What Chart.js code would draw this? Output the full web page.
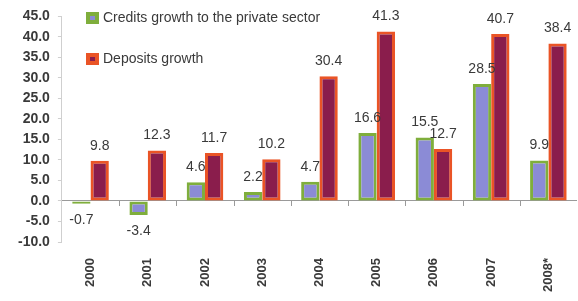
<!DOCTYPE html>
<html>
<head>
<meta charset="utf-8">
<script src="https://cdn.jsdelivr.net/npm/chart.js@4"></script>
<style>
  html, body { margin: 0; padding: 0; background: #fff; }
  #wrap { width: 578px; height: 301px; }
</style>
</head>
<body>
<div id="wrap"><canvas id="graf"></canvas></div>
<script>
// dados
var anos = ["2000", "2001", "2002", "2003", "2004", "2005", "2006", "2007", "2008*"];
var creditos = [-0.7, -3.4, 4.6, 2.2, 4.7, 16.6, 15.5, 28.5, 9.9];
var depositos = [9.8, 12.3, 11.7, 10.2, 30.4, 41.3, 12.7, 40.7, 38.4];
var nomes = ["Credits growth to the private sector", "Deposits growth"];

var corFundo = ["#8b8bd6", "#8a1d4c"];
var corBorda = ["#7fae3c", "#ea5426"];

// rotulos de valor em cima / embaixo das barras
var rotulos = {
  id: "rotulos",
  afterDatasetsDraw: function(chart){
    var ctx = chart.ctx
    ctx.save()
    ctx.font = "14px Arial, 'Liberation Sans', sans-serif"
    ctx.fillStyle = "#3a3a3a"
    ctx.textAlign = "center"
    chart.data.datasets.forEach(function(ds, d){
      var meta = chart.getDatasetMeta(d)
      meta.data.forEach(function(bar, i){
        var v = ds.data[i]
        if (v < 0) {
          ctx.textBaseline = "top"
          ctx.fillText(v.toFixed(1), bar.x, bar.y + 9)
        } else {
          ctx.textBaseline = "bottom"
          ctx.fillText(v.toFixed(1), bar.x, bar.y - 8)
        }
      })
    })
    ctx.restore()
  }
}

// tracinhos no eixo zero e a legenda
var extras = {
  id: "extras",
  afterDraw: function(chart){
    var ctx = chart.ctx
    var x = chart.scales.x, y = chart.scales.y
    var y0 = y.getPixelForValue(0)
    ctx.save()
    ctx.strokeStyle = "#9a9a9a"
    ctx.lineWidth = 1
    for (var i = 0; i < anos.length - 1; i++) {
      var px = Math.round((x.getPixelForValue(i) + x.getPixelForValue(i + 1)) / 2) + 0.5
      ctx.beginPath()
      ctx.moveTo(px, y0)
      ctx.lineTo(px, y0 + 5)
      ctx.stroke()
    }
    // legenda
    var posY = [18, 59]
    ctx.font = "14px Arial, 'Liberation Sans', sans-serif"
    ctx.textBaseline = "middle"
    ctx.textAlign = "left"
    nomes.forEach(function(n, k){
      ctx.fillStyle = corBorda[k]
      ctx.fillRect(86, posY[k] - 6, 13, 12)
      ctx.fillStyle = corFundo[k]
      ctx.fillRect(90, posY[k] - 2, 5, 4)
      ctx.fillStyle = "#3a3a3a"
      ctx.fillText(n, 103, posY[k])
    })
    ctx.restore()
  }
}

new Chart(document.getElementById("graf"), {
  type: "bar",
  data: {
    labels: anos,
    datasets: [{
      label: nomes[0],
      data: creditos,
      backgroundColor: corFundo[0],
      borderColor: corBorda[0],
      borderWidth: 3,
      borderSkipped: false
    }, {
      label: nomes[1],
      data: depositos,
      backgroundColor: corFundo[1],
      borderColor: corBorda[1],
      borderWidth: 3,
      borderSkipped: false
    }]
  },
  plugins: [rotulos, extras],
  options: {
    responsive: true,
    maintainAspectRatio: false,
    animation: false,
    layout: { padding: { top: 16, right: 1, bottom: 1, left: 10 } },
    datasets: { bar: { categoryPercentage: 0.64, barPercentage: 1.0 } },
    plugins: {
      legend: { display: false },
      tooltip: { enabled: false }
    },
    scales: {
      x: {
        grid: { display: false },
        border: { display: false },
        ticks: {
          minRotation: 90,
          maxRotation: 90,
          padding: 8,
          color: "#3a3a3a",
          font: { family: "Arial, 'Liberation Sans', sans-serif", size: 13, weight: "bold" }
        }
      },
      y: {
        min: -10,
        max: 45,
        border: { display: true, color: "#cfcfcf" },
        grid: {
          drawTicks: true,
          tickLength: 4,
          tickColor: "#cfcfcf",
          color: function(c){ return c.tick && c.tick.value === 0 ? "#9a9a9a" : "rgba(0,0,0,0)" }
        },
        ticks: {
          stepSize: 5,
          autoSkip: false,
          padding: 8,
          color: "#3a3a3a",
          font: { family: "Arial, 'Liberation Sans', sans-serif", size: 14, weight: "bold" },
          callback: function(v){ return v.toFixed(1) }
        }
      }
    }
  }
})
</script>
</body>
</html>
